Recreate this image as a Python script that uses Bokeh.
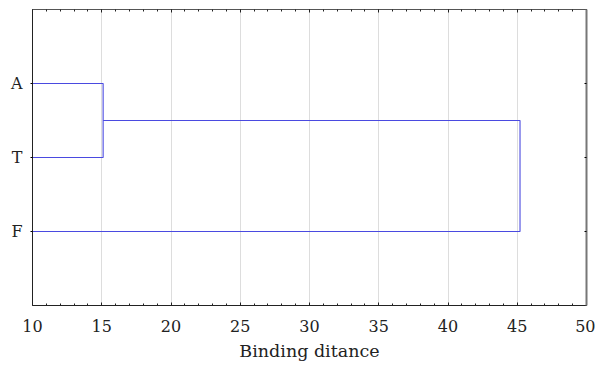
from bokeh.plotting import figure
from bokeh.models import Range1d, FixedTicker, LinearAxis
from bokeh.embed import file_html
from bokeh.resources import INLINE

# Data
leaves = ["A", "T", "F"]
leaf_positions = [1, 2, 3]
# merges: (left node, right node, binding distance)  -- node ids follow scipy convention
merges = [(0, 1, 15.1), (3, 2, 45.2)]
x_ticks = [10, 15, 20, 25, 30, 35, 40, 45, 50]
x_min, x_max = 10, 50

FONT = "DejaVu Serif"
LINE_COLOR = "#4a4ae0"
TXT = "#222222"

p = figure(width=595, height=367, frame_width=554, frame_height=296,
           output_backend="svg", toolbar_location=None,
           x_range=Range1d(x_min, x_max), y_range=Range1d(4, 0),
           min_border_left=32, min_border_right=9, min_border_top=9, min_border_bottom=62,
           x_axis_location=None, y_axis_location=None)

# compute dendrogram segments
node_x = {i: x_min for i in range(len(leaves))}
node_y = {i: leaf_positions[i] for i in range(len(leaves))}
xs, ys = [], []
for k, (a, b, h) in enumerate(merges):
    xs.append([node_x[a], h, h, node_x[b]])
    ys.append([node_y[a], node_y[a], node_y[b], node_y[b]])
    nid = len(leaves) + k
    node_x[nid] = h
    node_y[nid] = (node_y[a] + node_y[b]) / 2

p.multi_line(xs, ys, line_color=LINE_COLOR, line_width=1.1)

minor = [v for v in range(x_min, x_max + 1)]

def style_x(ax, labels=True):
    ax.ticker = FixedTicker(ticks=x_ticks, minor_ticks=minor)
    ax.major_tick_in = 3
    ax.major_tick_out = 0
    ax.minor_tick_in = 2
    ax.minor_tick_out = 0
    ax.axis_line_color = TXT
    ax.major_tick_line_color = TXT
    ax.minor_tick_line_color = TXT
    if labels:
        ax.major_label_text_font = FONT
        ax.major_label_text_font_size = "16px"
        ax.major_label_text_color = TXT
        ax.major_label_standoff = 14
    else:
        ax.major_label_overrides = {t: "" for t in x_ticks}
        ax.major_label_standoff = 0

xb = LinearAxis(axis_label="Binding ditance")
style_x(xb)
xb.axis_label_text_font = FONT
xb.axis_label_text_font_size = "17.5px"
xb.axis_label_text_font_style = "normal"
xb.axis_label_text_color = TXT
xb.axis_label_standoff = 6
p.add_layout(xb, "below")

xt = LinearAxis()
style_x(xt, labels=False)
xt.axis_line_color = "#555555"
p.add_layout(xt, "above")

yl = LinearAxis()
yl.ticker = FixedTicker(ticks=leaf_positions)
yl.major_label_overrides = {pos: lab for pos, lab in zip(leaf_positions, leaves)}
yl.major_tick_in = 0
yl.major_tick_out = 2
yl.minor_tick_line_color = None
yl.major_label_standoff = 8
yl.major_label_text_font = FONT
yl.major_label_text_font_size = "16px"
yl.major_label_text_color = TXT
yl.axis_line_color = TXT
p.add_layout(yl, "left")

yr = LinearAxis()
yr.ticker = FixedTicker(ticks=leaf_positions)
yr.major_label_overrides = {pos: "" for pos in leaf_positions}
yr.major_tick_in = 2
yr.major_tick_out = 0
yr.minor_tick_line_color = None
yr.major_label_standoff = 0
yr.axis_line_color = "#777777"
yr.axis_line_width = 2
p.add_layout(yr, "right")

p.xgrid.ticker = FixedTicker(ticks=x_ticks)
p.xgrid.grid_line_color = "#dddddd"
p.ygrid.grid_line_color = None
p.outline_line_color = None
p.background_fill_color = "white"
p.border_fill_color = "white"

open("out.html", "w").write(file_html(p, INLINE))
